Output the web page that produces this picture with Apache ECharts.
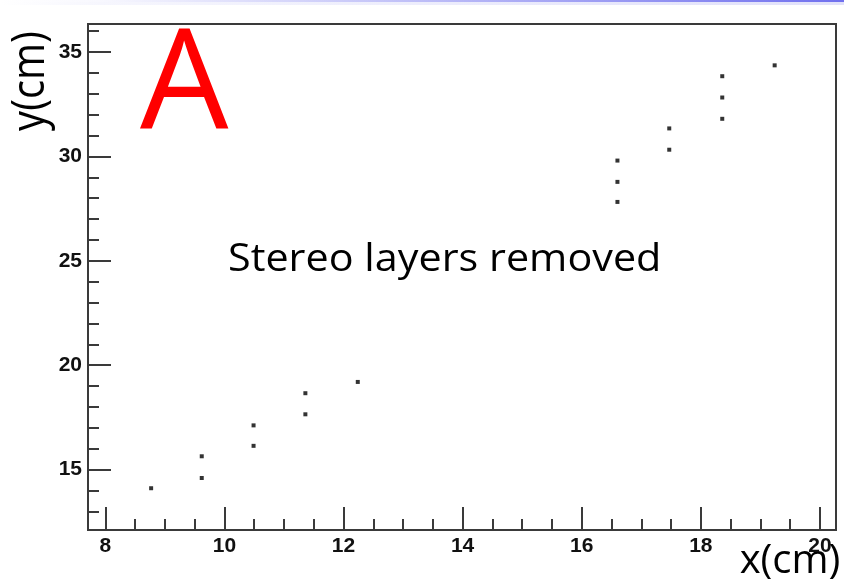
<!DOCTYPE html>
<html>
<head>
<meta charset="utf-8">
<script src="https://cdn.jsdelivr.net/npm/echarts@6/dist/echarts.min.js"></script>
<style>
  html, body { margin: 0; padding: 0; background: #fff; }
  #chart { width: 844px; height: 582px; }
</style>
</head>
<body>
<div id="chart"></div>
<script>
// Hit positions (cm) after the stereo layers were taken out
const hitX = [8.77, 9.62, 9.62, 10.49, 10.49, 11.36, 11.36, 12.24,
              16.60, 16.60, 16.60, 17.47, 17.47, 18.36, 18.36, 18.36, 19.24];
const hitY = [14.11, 14.60, 15.64, 16.14, 17.12, 17.65, 18.66, 19.20,
              27.82, 28.78, 29.80, 30.32, 31.34, 31.80, 32.82, 33.84, 34.36];

// Axis ranges and tick positions
const xRange = [7.71, 20.27];
const yRange = [12.11, 36.34];
const xMajor = [8, 10, 12, 14, 16, 18, 20];
const xMinor = [8.5, 9, 9.5, 10.5, 11, 11.5, 12.5, 13, 13.5, 14.5, 15, 15.5,
                16.5, 17, 17.5, 18.5, 19, 19.5];
const yMajor = [15, 20, 25, 30, 35];
const yMinor = [13, 14, 16, 17, 18, 19, 21, 22, 23, 24, 26, 27, 28, 29,
                31, 32, 33, 34, 36];

const panelLabel = 'A';
const noteText = 'Stereo layers removed';
const xTitle = 'x(cm)';
const yTitle = 'y(cm)';

const frameColor = '#3a3a3a';
const labelFont = { fontFamily: 'Liberation Sans', fontWeight: 'bold', fontSize: 21, color: '#111' };

const points = hitX.map((x, i) => [x, hitY[i]]);

function majorAxis(dim, range, ticks, len) {
  return {
    type: 'value', min: range[0], max: range[1],
    position: dim === 'x' ? 'bottom' : 'left',
    axisLine: { show: false },
    splitLine: { show: false },
    axisTick: { show: true, inside: true, length: len, customValues: ticks,
                lineStyle: { color: frameColor, width: 2 } },
    axisLabel: Object.assign({ show: true, customValues: ticks, margin: 6 }, labelFont)
  };
}
function minorAxis(dim, range, ticks, len) {
  return {
    type: 'value', min: range[0], max: range[1],
    position: dim === 'x' ? 'bottom' : 'left', offset: 0,
    axisLine: { show: false },
    splitLine: { show: false },
    axisTick: { show: true, inside: true, length: len, customValues: ticks,
                lineStyle: { color: frameColor, width: 2 } },
    axisLabel: { show: false }
  };
}

const chart = echarts.init(document.getElementById('chart'), null, { renderer: 'canvas' });
chart.setOption({
  animation: false,
  backgroundColor: '#fff',
  grid: { left: 88, right: 8, top: 24, bottom: 52, show: true,
          borderColor: frameColor, borderWidth: 2, backgroundColor: 'transparent' },
  xAxis: [majorAxis('x', xRange, xMajor, 23), minorAxis('x', xRange, xMinor, 11)],
  yAxis: [majorAxis('y', yRange, yMajor, 23), minorAxis('y', yRange, yMinor, 11)],
  series: [{
    type: 'scatter', xAxisIndex: 0, yAxisIndex: 0,
    data: points, symbol: 'rect', symbolSize: 4,
    itemStyle: { color: '#000' }
  }],
  graphic: [
    // slide header band
    { type: 'rect', shape: { x: 0, y: 0, width: 844, height: 2 }, silent: true,
      style: { fill: new echarts.graphic.LinearGradient(0, 0, 1, 0, [
        { offset: 0, color: 'rgba(112,112,238,0)' },
        { offset: 0.12, color: 'rgba(112,112,238,0.05)' },
        { offset: 1, color: 'rgba(112,112,238,1)' }]) } },
    { type: 'rect', shape: { x: 0, y: 2, width: 844, height: 3 }, silent: true,
      style: { fill: new echarts.graphic.LinearGradient(0, 0, 1, 0, [
        { offset: 0, color: 'rgba(225,225,250,0)' },
        { offset: 0.12, color: 'rgba(225,225,250,0.3)' },
        { offset: 1, color: 'rgba(225,225,250,1)' }]) } },
    { type: 'text', x: 140, y: 89, silent: true,
      style: { text: panelLabel, fill: '#ff0000', font: '140px "Open Sans"',
               align: 'left', verticalAlign: 'middle' } },
    { type: 'text', x: 228, y: 260, scaleX: 1.06, silent: true,
      style: { text: noteText, fill: '#000', font: '39px "Open Sans"',
               align: 'left', verticalAlign: 'middle' } },
    { type: 'text', x: 31, y: 81, rotation: Math.PI / 2, scaleY: 1.15, silent: true,
      style: { text: yTitle, fill: '#000', font: '40px "Open Sans"',
               align: 'center', verticalAlign: 'middle' } },
    { type: 'text', x: 790, y: 562, silent: true,
      style: { text: xTitle, fill: '#000', font: '40px "Open Sans"',
               align: 'center', verticalAlign: 'middle' } }
  ]
});
</script>
</body>
</html>
